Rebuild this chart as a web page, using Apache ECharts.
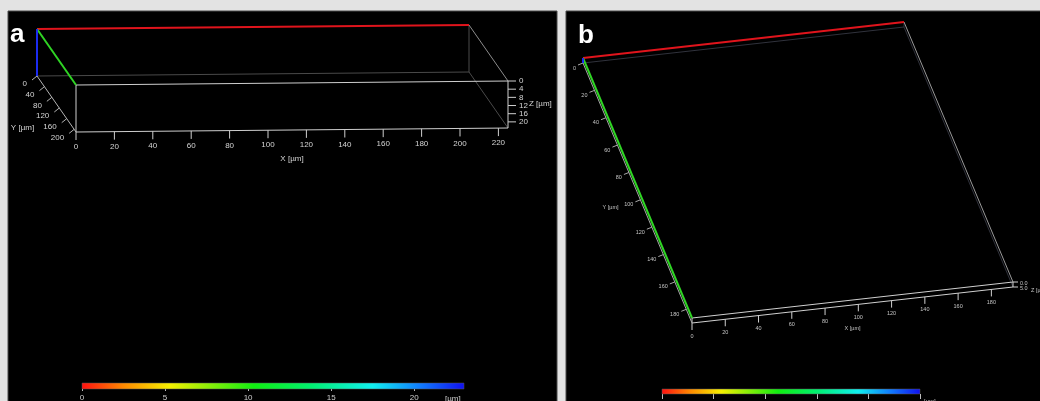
<!DOCTYPE html>
<html>
<head>
<meta charset="utf-8">
<script src="https://cdn.jsdelivr.net/npm/echarts@6/dist/echarts.min.js"></script>
<style>
  html, body { margin: 0; padding: 0; background: #e3e3e3; }
  #chart { width: 1040px; height: 401px; }
</style>
</head>
<body>
<div id="chart"></div>
<script>
// Panel a: scanned volume extent in µm [X, Y, Z] and axis ticks
const extentA = [225, 210, 23];
const xTicksA = [0, 20, 40, 60, 80, 100, 120, 140, 160, 180, 200, 220];
const yTicksA = [0, 40, 80, 120, 160, 200];
const zTicksA = [0, 4, 8, 12, 16, 20];
const colorTicksA = [0, 5, 10, 15, 20];

// Panel b: scanned volume extent in µm [X, Y, Z] and axis ticks
const extentB = [193, 190, 5];
const xTicksB = [0, 20, 40, 60, 80, 100, 120, 140, 160, 180];
const yTicksB = [0, 20, 40, 60, 80, 100, 120, 140, 160, 180];
const zTicksB = [0, 5];
const colorTicksB = [0, 1, 2, 3, 4, 5];

const FONT = 'Liberation Sans, Arial, sans-serif';

// Oblique projection of each panel: screen origin and the screen offset of each full axis
const viewA = {
  origin: [37, 29], ex: [432, -4], ey: [39, 56], ez: [0, 47],
  font: 8, labelColor: '#d4d4d4', axisW: 2,
  xTick: 8, xLabel: 15, xName: 29,
  yTick: [-5, 4], yLabel: [-10, 8], yName: [-34, 24],
  zTick: 8, zLabel: [11, 0], zName: [21, -1],
  zFmt: v => String(v),
  back: '#4a4a4a', side: '#8c8c8c', front: '#cfcfcf', yAxis: '#b4b4b4'
};
const viewB = {
  origin: [583, 58], ex: [321, -36], ey: [109, 260], ez: [0, 5],
  font: 5.5, labelColor: '#c4c4c4', axisW: 2,
  xTick: 7, xLabel: 13, xName: 23,
  yTick: [-5, 2], yLabel: [-7, 5], yName: [-27, 14],
  zTick: 5, zLabel: [7, 1], zName: [18, 6],
  zFmt: v => v.toFixed(1),
  back: '#30323c', side: '#9a9a9a', front: '#d0d0d0', yAxis: '#a8a8a8'
};

function boxRenderer(view, ext, xt, yt, zt) {
  const P = (x, y, z) => [
    view.origin[0] + x / ext[0] * view.ex[0] + y / ext[1] * view.ey[0] + z / ext[2] * view.ez[0],
    view.origin[1] + x / ext[0] * view.ex[1] + y / ext[1] * view.ey[1] + z / ext[2] * view.ez[1]
  ];
  return function () {
    const [X, Y, Z] = ext;
    const out = [];
    const seg = (a, b, stroke, w) => out.push({
      type: 'line', silent: true,
      shape: { x1: a[0], y1: a[1], x2: b[0], y2: b[1] },
      style: { stroke: stroke, lineWidth: w || 1 }
    });
    const txt = (p, text, align, size) => out.push({
      type: 'text', silent: true, x: p[0], y: p[1],
      style: { text: text, fill: view.labelColor, fontSize: size || view.font, fontFamily: FONT, align: align, verticalAlign: 'middle' }
    });
    const add = (p, d) => [p[0] + d[0], p[1] + d[1]];

    // hidden-side edges
    seg(P(0, 0, Z), P(X, 0, Z), view.back);
    seg(P(X, 0, 0), P(X, 0, Z), view.back);
    seg(P(X, 0, Z), P(X, Y, Z), view.back);
    seg(P(X, 0, 0), P(X, Y, 0), view.side);
    // front face
    seg(P(0, Y, 0), P(X, Y, 0), view.front);
    seg(P(0, Y, Z), P(X, Y, Z), view.front);
    seg(P(0, Y, 0), P(0, Y, Z), view.front);
    seg(P(X, Y, 0), P(X, Y, Z), view.front);
    // Y axis line
    seg(P(0, 0, Z), P(0, Y, Z), view.yAxis);

    // X axis ticks
    xt.forEach(v => {
      const p = P(v, Y, Z);
      seg(p, add(p, [0, view.xTick]), view.front);
      txt(add(p, [0, view.xLabel]), String(v), 'center');
    });
    txt(add(P(X / 2, Y, Z), [0, view.xName]), 'X [µm]', 'center');
    // Y axis ticks
    yt.forEach(v => {
      const p = P(0, v, Z);
      seg(p, add(p, view.yTick), view.yAxis);
      txt(add(p, view.yLabel), String(v), 'right');
    });
    txt(add(P(0, Y / 2, Z), view.yName), 'Y [µm]', 'center');
    // Z axis ticks
    zt.forEach(v => {
      const p = P(X, Y, v);
      seg(p, add(p, [view.zTick, 0]), view.front);
      txt(add(p, view.zLabel), view.zFmt(v), 'left');
    });
    txt(add(P(X, Y, Z / 2), view.zName), 'Z [µm]', 'left');

    // coordinate axes at the origin corner
    seg(P(0, 0, 0), P(X, 0, 0), '#e0141c', view.axisW);
    seg(P(0, 0, 0), P(0, Y, 0), '#2fd424', view.axisW);
    seg(P(0, 0, 0), P(0, 0, Z), '#1c2cf0', view.axisW);

    return { type: 'group', children: out };
  };
}

// depth colour map (red at the top surface, blue at the bottom)
function depthGradient() {
  return new echarts.graphic.LinearGradient(0, 0, 1, 0, [
    { offset: 0.00, color: '#ff1010' },
    { offset: 0.11, color: '#ff8a00' },
    { offset: 0.23, color: '#f6f000' },
    { offset: 0.45, color: '#10ee10' },
    { offset: 0.60, color: '#00f070' },
    { offset: 0.76, color: '#10f0f0' },
    { offset: 0.88, color: '#1080ff' },
    { offset: 1.00, color: '#1010f0' }
  ]);
}

function colorBar(index, max) {
  return {
    type: 'custom', xAxisIndex: index, yAxisIndex: index,
    data: [[0, max]],
    renderItem: function (params, api) {
      const cs = params.coordSys;
      const a = api.coord([api.value(0), 0]);
      const b = api.coord([api.value(1), 0]);
      return {
        type: 'rect', silent: true,
        shape: { x: a[0], y: cs.y, width: b[0] - a[0], height: cs.height },
        style: { fill: depthGradient(), stroke: '#555', lineWidth: 0.5 }
      };
    }
  };
}

function barAxis(index, ticks, max, fontSize, tickLen, margin) {
  return {
    type: 'value', gridIndex: index, min: ticks[0], max: max,
    interval: ticks[1] - ticks[0],
    axisLine: { show: false },
    splitLine: { show: false },
    axisTick: { show: true, length: tickLen, lineStyle: { color: '#bdbdbd', width: 1 } },
    axisLabel: { color: '#cfcfcf', fontSize: fontSize, fontFamily: FONT, margin: margin, showMaxLabel: ticks[ticks.length - 1] === max }
  };
}

const chart = echarts.init(document.getElementById('chart'), null, { renderer: 'canvas' });

chart.setOption({
  backgroundColor: '#e3e3e3',
  animation: false,
  graphic: [
    { type: 'rect', z: -10, silent: true, shape: { x: 8, y: 11, width: 549, height: 400 }, style: { fill: '#000', stroke: '#4a4a4a', lineWidth: 1 } },
    { type: 'rect', z: -10, silent: true, shape: { x: 566, y: 11, width: 480, height: 400 }, style: { fill: '#000', stroke: '#4a4a4a', lineWidth: 1 } },
    { type: 'text', z: 100, silent: true, x: 10, y: 35, style: { text: 'a', fill: '#fff', fontSize: 26, fontWeight: 'bold', fontFamily: FONT, verticalAlign: 'middle' } },
    { type: 'text', z: 100, silent: true, x: 578, y: 36, style: { text: 'b', fill: '#fff', fontSize: 26, fontWeight: 'bold', fontFamily: FONT, verticalAlign: 'middle' } },
    { type: 'text', z: 100, silent: true, x: 445, y: 399, style: { text: '[µm]', fill: '#cfcfcf', fontSize: 8, fontFamily: FONT, verticalAlign: 'middle' } },
    { type: 'text', z: 100, silent: true, x: 924, y: 401, style: { text: '[µm]', fill: '#bdbdbd', fontSize: 6, fontFamily: FONT, verticalAlign: 'middle' } }
  ],
  grid: [
    { left: 82, top: 383, width: 382, height: 6, outerBoundsMode: 'none', containLabel: false },
    { left: 662, top: 389, width: 258, height: 5, outerBoundsMode: 'none', containLabel: false }
  ],
  xAxis: [
    barAxis(0, colorTicksA, extentA[2], 8, 2, 5),
    barAxis(1, colorTicksB, extentB[2], 6, 5, 12)
  ],
  yAxis: [
    { type: 'value', gridIndex: 0, min: 0, max: 1, show: false },
    { type: 'value', gridIndex: 1, min: 0, max: 1, show: false }
  ],
  series: [
    { type: 'custom', coordinateSystem: 'none', data: [[0]], renderItem: boxRenderer(viewA, extentA, xTicksA, yTicksA, zTicksA) },
    { type: 'custom', coordinateSystem: 'none', data: [[0]], renderItem: boxRenderer(viewB, extentB, xTicksB, yTicksB, zTicksB) },
    colorBar(0, extentA[2]),
    colorBar(1, extentB[2])
  ]
});
</script>
</body>
</html>
